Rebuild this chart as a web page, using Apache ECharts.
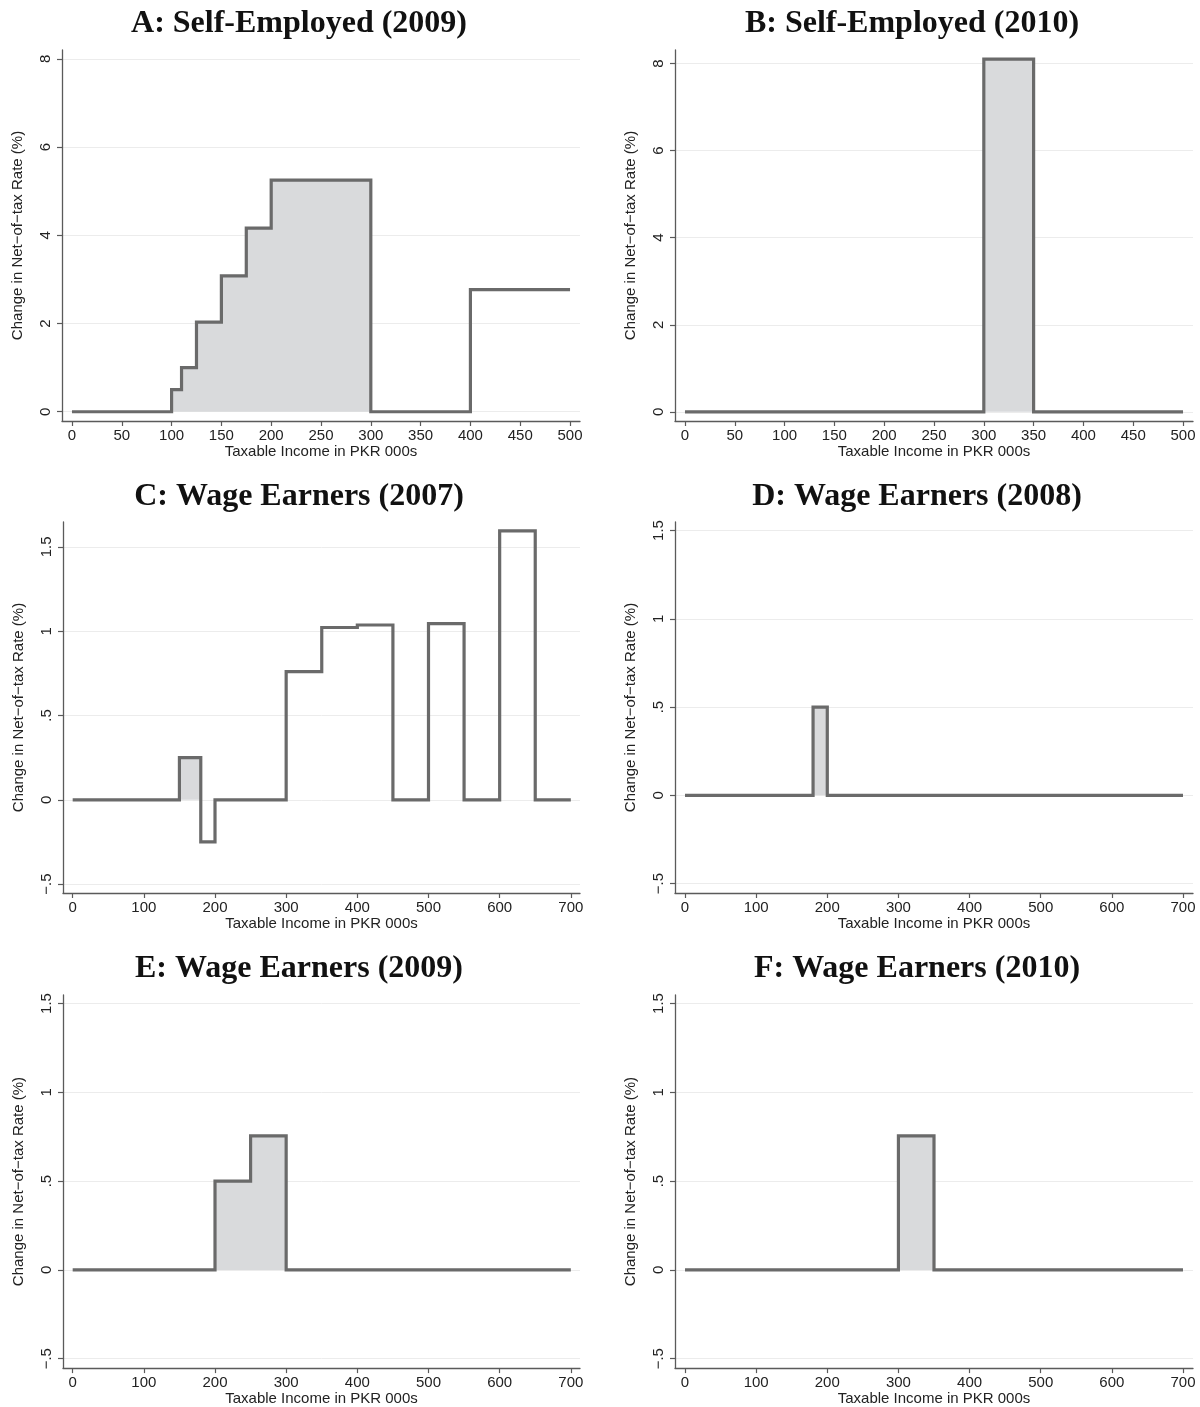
<!DOCTYPE html>
<html><head><meta charset="utf-8">
<script src="https://cdn.jsdelivr.net/npm/echarts@6/dist/echarts.min.js"></script>
<style>html,body{margin:0;padding:0;background:#fff}#c{width:1200px;height:1407px}</style>
</head><body><div id="c"></div>
<script>
// ---- Data ----
const panelTitles = ['A: Self-Employed (2009)', 'B: Self-Employed (2010)', 'C: Wage Earners (2007)', 'D: Wage Earners (2008)', 'E: Wage Earners (2009)', 'F: Wage Earners (2010)'];

// bracket edges (PKR 000s) and step level on each bracket (change in net-of-tax rate, %)
const breaksA = [0, 100, 110, 125, 150, 175, 200, 300, 400, 500];
const levelsA = [0, 0.5, 1.0, 2.03, 3.08, 4.16, 5.25, 0, 2.77];
const shadeA = [100, 300];

const breaksB = [0, 300, 350, 500];
const levelsB = [0, 8.1, 0];
const shadeB = [300, 350];

const breaksC = [0, 150, 180, 200, 300, 350, 400, 450, 500, 550, 600, 650, 700];
const levelsC = [0, 0.25, -0.25, 0, 0.76, 1.022, 1.037, 0, 1.045, 0, 1.595, 0];
const shadeC = [150, 180];

const breaksD = [0, 180, 200, 700];
const levelsD = [0, 0.5, 0];
const shadeD = [180, 200];

const breaksE = [0, 200, 250, 300, 700];
const levelsE = [0, 0.5, 0.755, 0];
const shadeE = [200, 300];

const breaksF = [0, 300, 350, 700];
const levelsF = [0, 0.755, 0];
const shadeF = [300, 350];

const xTicksSE = [0, 50, 100, 150, 200, 250, 300, 350, 400, 450, 500];
const xTicksWE = [0, 100, 200, 300, 400, 500, 600, 700];
const yTicksSE = [0, 2, 4, 6, 8];
const yTickLabelsSE = ['0', '2', '4', '6', '8'];
const yTicksWE = [-0.5, 0, 0.5, 1, 1.5];
const yTickLabelsWE = ['\u2212.5', '0', '.5', '1', '1.5'];

const xName = 'Taxable Income in PKR 000s';
const yName = 'Change in Net\u2212of\u2212tax Rate (%)';

// ---- Helpers ----
function stepData(breaks, levels) {
  const d = [];
  for (let i = 0; i < levels.length; i++) d.push([breaks[i], levels[i]]);
  d.push([breaks[breaks.length - 1], levels[levels.length - 1]]);
  return d;
}
function shadeData(breaks, levels, lo, hi) {
  const d = [];
  let last = 0;
  for (let i = 0; i < levels.length; i++) {
    if (breaks[i] >= lo && breaks[i] < hi) { d.push([breaks[i], levels[i]]); last = levels[i]; }
  }
  d.push([hi, last]);
  return d;
}

const panels = [
  {b: breaksA, l: levelsA, s: shadeA, grid: {left: 62, top: 50, width: 518, height: 371}, x: [-10, 510], y: [-0.21, 8.2], xt: xTicksSE, yt: yTicksSE, yl: yTickLabelsSE, t: {x: 294, y: 3}},
  {b: breaksB, l: levelsB, s: shadeB, grid: {left: 675, top: 50, width: 518, height: 371}, x: [-10, 510], y: [-0.21, 8.31], xt: xTicksSE, yt: yTicksSE, yl: yTickLabelsSE, t: {x: 907, y: 3}},
  {b: breaksC, l: levelsC, s: shadeC, grid: {left: 63, top: 522, width: 517, height: 371}, x: [-13.6, 712.9], y: [-0.553, 1.648], xt: xTicksWE, yt: yTicksWE, yl: yTickLabelsWE, t: {x: 294, y: 476}},
  {b: breaksD, l: levelsD, s: shadeD, grid: {left: 675, top: 522, width: 518, height: 371}, x: [-14.06, 714.06], y: [-0.553, 1.548], xt: xTicksWE, yt: yTicksWE, yl: yTickLabelsWE, t: {x: 912, y: 476}},
  {b: breaksE, l: levelsE, s: shadeE, grid: {left: 63, top: 995, width: 517, height: 373.5}, x: [-13.6, 712.9], y: [-0.553, 1.548], xt: xTicksWE, yt: yTicksWE, yl: yTickLabelsWE, t: {x: 294, y: 948}},
  {b: breaksF, l: levelsF, s: shadeF, grid: {left: 675, top: 995, width: 518, height: 373.5}, x: [-14.06, 714.06], y: [-0.553, 1.548], xt: xTicksWE, yt: yTicksWE, yl: yTickLabelsWE, t: {x: 912, y: 948}}
];

const AXIS_COLOR = '#5a5a5a';
const LINE_COLOR = '#6a6a6a';
const FILL_COLOR = '#d9dadc';
const GRID_COLOR = '#ececec';
const SANS = '"Liberation Sans", Arial, sans-serif';

const option = {
  animation: false,
  backgroundColor: '#fff',
  title: [], grid: [], xAxis: [], yAxis: [], series: []
};

panels.forEach((p, i) => {
  option.title.push({
    text: panelTitles[i], left: p.t.x, top: p.t.y, textAlign: 'center',
    textStyle: {fontFamily: '"Liberation Serif", "Times New Roman", serif', fontWeight: 'bold', fontSize: 32, color: '#111'}
  });
  option.grid.push(Object.assign({containLabel: false}, p.grid));
  option.xAxis.push({
    type: 'value', gridIndex: i, min: p.x[0], max: p.x[1],
    name: xName, nameLocation: 'middle', nameGap: 22,
    nameTextStyle: {fontFamily: SANS, fontSize: 15, color: '#222'},
    axisLine: {show: true, onZero: false, lineStyle: {color: AXIS_COLOR, width: 1.3}},
    axisTick: {show: true, length: 5, customValues: p.xt, lineStyle: {color: AXIS_COLOR, width: 1.2}},
    axisLabel: {customValues: p.xt, margin: 7, fontFamily: SANS, fontSize: 15, color: '#222', showMinLabel: true, showMaxLabel: true},
    splitLine: {show: false}
  });
  const yt = p.yt, yl = p.yl;
  option.yAxis.push({
    type: 'value', gridIndex: i, min: p.y[0], max: p.y[1],
    name: yName, nameLocation: 'middle', nameGap: 37, nameRotate: 90,
    nameTextStyle: {fontFamily: SANS, fontSize: 15, color: '#222'},
    axisLine: {show: true, onZero: false, lineStyle: {color: AXIS_COLOR, width: 1.3}},
    axisTick: {show: true, length: 5, customValues: yt, lineStyle: {color: AXIS_COLOR, width: 1.2}},
    axisLabel: {
      customValues: yt, rotate: 90, margin: 9, fontFamily: SANS, fontSize: 15, color: '#222',
      formatter: v => { const k = yt.findIndex(t => Math.abs(t - v) < 1e-9); return k >= 0 ? yl[k] : ''; }
    },
    splitLine: {show: true, lineStyle: {color: GRID_COLOR, width: 1}}
  });
  option.series.push({
    type: 'line', xAxisIndex: i, yAxisIndex: i, step: 'end',
    data: shadeData(p.b, p.l, p.s[0], p.s[1]),
    showSymbol: false, symbol: 'none', silent: true,
    lineStyle: {width: 0, opacity: 0},
    areaStyle: {color: FILL_COLOR, opacity: 1, origin: 0},
    z: 2
  });
  option.series.push({
    type: 'line', xAxisIndex: i, yAxisIndex: i, step: 'end',
    data: stepData(p.b, p.l),
    showSymbol: false, symbol: 'none', silent: true,
    lineStyle: {color: LINE_COLOR, width: 3.2, cap: 'butt', join: 'miter'},
    z: 3
  });
});

const chart = echarts.init(document.getElementById('c'), null, {renderer: 'canvas'});
chart.setOption(option);
</script>
</body></html>
